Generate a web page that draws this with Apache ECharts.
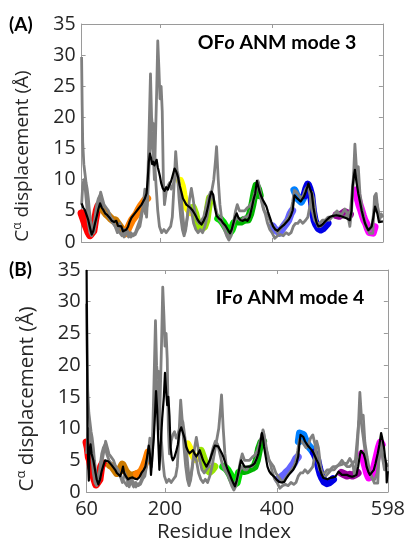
<!DOCTYPE html>
<html><head><meta charset="utf-8">
<script src="https://cdn.jsdelivr.net/npm/echarts@6/dist/echarts.min.js"></script>
<style>html,body{margin:0;padding:0;background:#fff}#c{width:408px;height:541px}</style>
</head><body><div id="c"></div>
<script>
const residueTicks = [60, 200, 400, 598];
const innerXTicks = [200, 400];
const yTicks = [0, 5, 10, 15, 20, 25, 30, 35];

// gray curves (shared by both panels)
const grayS1 = [[60,29.7],[61,22],[62,16],[64,12.5],[66,11],[68,9.5],[70,8.5],[72,7],[74,5],[76,3.5],[79,2],[82,1.5],[85,3],[88,5],[91,6.5],[94,8],[97,7],[100,6],[104,5.5],[108,5],[112,4],[116,3.5],[120,2.5],[124,1.5],[128,3],[132,2],[136,0.8],[140,2],[144,1.5],[148,0.8],[152,1.2],[156,1.5],[160,2.5],[164,3.5],[168,5],[171,5.5],[174,4.5],[177,6],[180,16],[183,27],[185,20],[187,18],[189,19],[191,12],[193,9],[196,5],[199,2.5],[203,1.5],[207,2],[211,1.5],[215,2],[219,2.5],[222,4],[225,9],[228,14.5],[231,11],[234,7],[237,4],[240,2],[243,1],[246,2],[249,4],[252,6],[256,5],[260,3],[264,2],[268,1.5],[272,2],[276,1.5],[280,2.5],[284,4],[288,6],[292,8],[296,10],[299,13],[301,15.3],[304,10],[307,6],[311,3],[315,2],[319,1],[323,0.3],[327,1],[331,3],[335,5],[338,6],[342,5],[346,5],[351,5],[356,5.5],[360,5.8],[365,6.5],[369,7.8],[373,9],[376,9.5],[380,7],[384,5.5],[388,4.5],[392,3],[396,2],[400,1.5],[405,0.6],[410,1],[415,1.2],[420,1],[425,1.5],[430,1.2],[434,1.5],[438,2.5],[442,3],[446,3],[450,3.5],[455,3],[460,3.5],[464,4],[468,6],[471,8],[474,7],[478,4],[482,2.5],[487,2.5],[492,3],[497,3.5],[502,3.5],[507,4],[512,4.5],[516,5],[520,4.5],[525,4.5],[530,5.3],[535,4.5],[539,2.5],[542,5],[545,9.4],[548,15.7],[551,11.6],[554,12.1],[557,7.8],[561,5.5],[565,3.5],[569,2.5],[574,1.4],[580,1.4],[583,7.3],[586,7.8],[589,5.1],[592,3.5],[595,4.5],[598,4]];
const grayS2 = [[60,6],[62,9],[64,10],[66,9],[68,7],[70,5],[72,3],[75,1.5],[78,1],[81,2],[84,4],[87,6],[90,7],[93,7.5],[96,6],[100,5],[104,4.5],[108,4],[112,3.5],[116,3],[120,2.5],[124,2],[128,1.5],[132,1],[136,2],[140,1.5],[144,0.8],[148,1.5],[152,1],[156,1.2],[160,2],[164,2.5],[167,4],[170,6],[173,8.5],[176,4],[179,9],[182,15],[184,19],[186,16],[188,14],[190,10],[192,17],[194,24],[196,32.3],[198,28],[200,23],[202,25],[204,21],[206,10],[208,6],[211,8],[214,9],[217,9.5],[220,8.5],[223,9],[226,10],[229,11.5],[232,11],[235,9],[238,7],[241,4],[244,1.5],[247,3],[250,5],[253,7],[256,8.6],[259,7],[262,5],[266,3.5],[270,3],[274,3.5],[278,4],[282,5.5],[286,7],[290,8],[294,7.5],[298,6],[302,4.5],[306,3.5],[310,3],[314,2.5],[318,1.5],[322,1],[326,1.5],[330,2.5],[334,3.5],[338,4],[342,3.5],[346,3.5],[350,4],[355,4],[360,4.5],[364,5.5],[368,7],[372,8.5],[375,9.8],[378,8.5],[382,6.5],[386,5],[390,4.5],[394,4],[398,3],[402,2.5],[406,2],[410,1.5],[414,2],[418,2.5],[422,3],[426,3.5],[430,4],[434,5],[437,6.5],[440,8.3],[444,8],[448,7.5],[452,7],[456,7.5],[460,8.5],[464,9],[468,7.5],[472,5],[476,3.5],[480,3],[485,3],[490,3.5],[495,3.5],[500,4],[505,4],[510,4.2],[515,4.3],[520,4.5],[525,4],[530,4],[535,4.5],[540,5],[543,8],[546,11],[549,12],[552,10],[555,8],[558,6],[562,4],[566,3],[570,2],[575,2],[579,3],[582,5],[585,6.5],[588,6],[591,4.5],[594,4],[598,4.2]];

// panel A (OFo ANM mode 3)
const blackA = [[60,6.2],[63,5.5],[66,5.1],[69,4.3],[72,3.5],[75,2.3],[78,1.2],[81,1.8],[84,3],[87,4.1],[90,5.3],[93,6.2],[96,5.5],[99,5.1],[102,4.6],[106,4.3],[110,3.9],[114,3.4],[118,3.2],[122,3.4],[125,2.6],[128,2.3],[131,2.5],[134,1.7],[137,1.5],[140,2],[143,2.5],[146,3.3],[149,3.9],[152,4.2],[155,4.6],[158,4.9],[161,5.3],[164,5.6],[167,6],[170,6.5],[173,7],[176,7.8],[178,10],[180,12.9],[182,14.2],[184,13.5],[186,12.5],[188,12.9],[190,12.3],[192,12.6],[194,13.2],[196,12],[198,11.3],[200,10.5],[202,9.5],[205,8.6],[208,8.2],[211,8.8],[214,8.4],[217,9.2],[220,9.8],[223,10.8],[226,11.8],[229,11.3],[232,10.5],[235,9.1],[238,8.1],[241,7],[244,6.5],[247,6],[250,5.8],[254,5.5],[258,5.1],[262,4.5],[266,3.8],[270,3.2],[274,2.8],[278,3.4],[282,4.2],[286,5.8],[289,7.2],[292,8.1],[295,7.6],[298,5.5],[301,4.2],[305,3.8],[309,3.5],[313,3],[317,2.6],[321,2],[325,1.4],[328,2],[331,3],[334,4],[337,4.6],[340,3.9],[344,3.5],[348,3.4],[352,3.6],[356,3.4],[360,4],[364,5.5],[367,6.8],[370,7.8],[373,9.8],[375,9.5],[378,8],[381,7.3],[384,6.7],[387,6.2],[390,5.7],[393,4.8],[396,4],[399,3.2],[402,2.5],[406,2],[410,1.8],[414,2.2],[418,2.5],[422,2.8],[426,3.2],[430,3.6],[434,4.3],[437,5.1],[440,7.5],[442,7.8],[445,7],[448,7.3],[451,6.5],[454,6.8],[457,7.3],[460,8],[463,8.8],[465,9.4],[468,8.5],[471,7.8],[474,5.5],[477,4],[480,3],[483,2.5],[487,2.6],[492,3],[497,3.5],[503,4],[509,4.2],[515,4.3],[521,4.2],[527,4],[533,3.8],[539,3.5],[542,5],[544,8.9],[546,10.5],[548,11.6],[551,9.5],[554,7.8],[557,6.5],[560,5.1],[563,4],[566,3],[569,2.4],[572,1.9],[575,2],[578,2.5],[581,4],[584,5.7],[586,5.9],[588,4.6],[591,3.2],[594,3.5],[598,3.3]];
const redA = [[60,4.6],[63,3.8],[66,3],[69,2.3],[72,1.6],[75,1.1],[78,0.9],[81,1.8],[84,3.5],[87,5],[90,5.8]];
const brownA = [[96,5.5],[100,5],[104,4.5],[108,4.2],[112,3.8],[116,3.5],[120,3.5],[124,3],[128,2.5],[132,2],[135,1.6]];
const orangeA = [[138,1.4],[142,2],[146,2.8],[150,3.5],[154,4],[158,4.5],[162,5.2],[166,5.8],[170,6.3],[174,6.8],[177,7]];
const yellowA = [[236,9.8],[239,9],[242,7.5],[245,6.2],[248,5.6],[251,5.2],[254,4.8]];
const limeA = [[259,5.5],[263,4.5],[267,3],[271,2.3],[275,2.2],[279,2.5],[283,3.5],[286,5.5],[289,7]];
const greenA = [[304,3.8],[308,3.6],[312,3.2],[316,2.6],[320,2],[324,1.5],[328,2],[332,3]];
const darkGreenA = [[337,3.5],[341,3.3],[345,3.3],[349,3.5],[353,3.6],[357,3.6],[361,4.5],[365,6],[369,8],[372,9],[375,8.5],[378,7.5]];
const slateA = [[401,2.5],[405,2],[409,1.8],[413,1.5],[417,2],[421,2.5],[425,3],[429,3.5],[433,4.5],[436,5]];
const azureA = [[440,8.3],[443,8],[446,7],[449,6.8],[452,6.5],[455,6.8],[458,7.5]];
const blueA = [[458,7.5],[461,8.5],[464,9.2],[467,8.5],[470,7.5],[473,5],[476,3.5],[479,2.8],[483,2.2],[487,2],[491,2.2],[495,2.6],[499,3]];
const purpleA = [[515,4.3],[520,4.2],[525,4.5],[530,4.8],[535,4.6],[539,4.4]];
const magentaA = [[550,8.3],[553,7],[556,6],[559,5.2],[562,4.3],[565,3.5],[568,3],[571,2.2],[574,1.6],[577,1.3],[580,1.5],[583,2.4]];

// panel B (IFo ANM mode 4)
const blackB = [[60,35],[61,20],[62,8],[63,4],[64,1.8],[65,6.5],[67,7.5],[69,6],[72,5],[75,3.5],[78,2],[81,1.2],[84,2],[87,3.3],[90,4.2],[93,5],[96,5.3],[99,4.8],[102,4.5],[105,4.2],[108,4],[111,3.5],[114,3],[117,2.8],[120,2.5],[123,3.2],[125,4],[127,3],[130,2.5],[134,2],[138,2.2],[142,2.3],[146,2.1],[150,2],[154,2.3],[158,3],[162,3.5],[165,4],[168,5.5],[171,7.3],[173,6],[175,2.7],[177,5],[180,8.5],[182,12],[184,15.9],[186,13],[188,8],[190,3.5],[192,7],[195,11.6],[198,15],[200,18.8],[202,16],[204,13.7],[206,15],[208,12],[210,7],[212,5.5],[214,5],[217,5.5],[220,6.4],[223,7.5],[226,9.5],[229,10.2],[232,10.3],[235,8.5],[238,7.1],[241,6.5],[244,6.1],[247,6.3],[250,6.6],[253,6],[256,5.6],[259,6],[262,6.6],[265,5.8],[268,5],[271,4.5],[274,4],[277,4.5],[280,5],[283,5.8],[286,6.6],[289,7.3],[292,7.6],[295,7.2],[298,6.9],[301,6.2],[304,5.6],[307,4.8],[310,4],[313,3.3],[316,2.7],[319,2],[322,1.4],[325,0.9],[328,1.8],[331,3],[334,4.3],[336,5],[339,4.5],[342,4],[346,4],[351,4],[356,4.2],[360,4.5],[364,5.3],[367,6.1],[370,7.5],[373,9.3],[375,8.5],[377,7.1],[380,5.5],[383,4],[386,3.3],[389,2.9],[392,2.6],[395,2.4],[399,2],[404,1.6],[408,1.5],[413,1.6],[417,2.2],[421,2.7],[425,3.1],[429,3.5],[432,4],[435,4.6],[438,5.6],[440,7.5],[442,9],[445,9.2],[447,8.7],[450,8],[453,7.6],[456,7.2],[459,6.9],[462,6.6],[465,6.2],[468,5.6],[471,5],[474,4.5],[477,3.5],[480,2.7],[483,2.2],[486,1.9],[490,2],[495,2.2],[500,2.3],[504,2.4],[507,2.8],[510,3.2],[513,3],[516,2.7],[520,2.7],[525,2.7],[530,2.5],[534,2.4],[538,2.5],[542,2.7],[545,4],[548,5.8],[550,6.5],[553,6.6],[555,6],[558,5],[560,4],[563,3.2],[566,2.7],[569,3],[573,3.5],[576,4.5],[580,6.1],[583,7.5],[586,9.3],[588,8.5],[591,7.1],[593,5.5],[595,4.5],[596,1.5],[598,3.3]];
const redB = [[60,7.8],[62,7],[64,5.5],[66,5],[68,4],[71,3],[74,2],[77,1.2],[80,1],[83,2],[86,4],[89,4.5]];
const brownB = [[102,4.2],[106,4],[110,3.5],[114,3],[118,3.2],[121,3.8],[124,4.3],[127,4],[130,3.2],[134,2.8],[138,2.6],[142,2.6],[146,2.7],[149,2.8]];
const orangeB = [[150,2.8],[154,3],[158,3.3],[162,4],[166,5],[170,6.2]];
const yellowB = [[240,7.5],[243,7.2],[246,6.5],[249,6],[252,5.5],[255,5.2]];
const limeB = [[264,6.5],[268,5.5],[272,4.5],[276,3.5],[280,3.2],[284,3.5],[288,4]];
const greenB = [[304,4],[308,3.8],[312,3.4],[316,2.8],[320,2],[324,1.3],[328,1.5],[332,3]];
const darkGreenB = [[337,3.5],[341,3.3],[346,3.4],[351,3.6],[356,3.8],[360,4],[364,5],[368,6.8],[372,7.8],[375,8]];
const slateB = [[402,2],[406,2.2],[410,2.5],[414,2.8],[418,3.2],[422,3.5],[426,4],[430,4.5],[434,5.2],[437,5.5]];
const azureB = [[439,8],[441,9.2],[444,9.5],[447,9],[450,8.3],[453,7.8],[456,7.3],[459,7],[462,6.7],[465,6.3]];
const blueB = [[466,6.2],[469,5.6],[472,5],[475,3.8],[478,2.8],[481,2.2],[485,1.6],[489,1.4],[493,1.5],[497,1.8],[500,2]];
const purpleB = [[515,3],[520,2.8],[525,2.6],[530,2.7],[535,2.6],[540,2.8],[544,3]];
const magentaB = [[552,6],[555,5],[558,4],[561,3],[564,2.3],[567,2.2],[570,2.8],[574,4],[578,5.5],[582,7],[585,7.8],[587,7.5]];

const segmentsA = [redA, brownA, orangeA, yellowA, limeA, greenA, darkGreenA, slateA, azureA, blueA, purpleA, magentaA];
const segmentsB = [redB, brownB, orangeB, yellowB, limeB, greenB, darkGreenB, slateB, azureB, blueB, purpleB, magentaB];
const segColors = ['#FF0000','#CC7A00','#FF8000','#FFFF00','#99E600','#00E000','#00B400','#6464FF','#0080FF','#0000E6','#990099','#FF00FF'];

const chart = echarts.init(document.getElementById('c'), null, {renderer: 'canvas'});
const FRAME = '#9a9a9a';
const TXT = '#262626';
const FONT = 'Open Sans';

function xAx(grid, pos, labels, fs) {
  return {
    type: 'value', gridIndex: grid, position: pos, min: 60, max: 598,
    axisLine: {show: true, onZero: false, lineStyle: {color: FRAME, width: 1}},
    axisTick: {show: true, inside: true, length: 4, customValues: innerXTicks, lineStyle: {color: FRAME}},
    axisLabel: labels ? {show: true, customValues: residueTicks, color: TXT, fontSize: fs, fontFamily: FONT, margin: 7, showMinLabel: true, showMaxLabel: true} : {show: false},
    splitLine: {show: false}
  };
}
function yAx(grid, pos, labels, fs) {
  return {
    type: 'value', gridIndex: grid, position: pos, min: 0, max: 35, interval: 5,
    axisLine: {show: true, onZero: false, lineStyle: {color: FRAME, width: 1}},
    axisTick: {show: true, inside: true, length: 4, lineStyle: {color: FRAME}},
    axisLabel: labels ? {show: true, color: TXT, fontSize: fs, fontFamily: FONT, margin: 6} : {show: false},
    splitLine: {show: false}
  };
}

function panelSeries(xi, yi, segs, black) {
  const s = [];
  segs.forEach((d, k) => s.push({
    type: 'line', xAxisIndex: xi, yAxisIndex: yi, data: d, symbol: 'none', silent: true,
    lineStyle: {color: segColors[k], width: 8, cap: 'round', join: 'round'}, z: 1
  }));
  [grayS1, grayS2].forEach(d => s.push({
    type: 'line', xAxisIndex: xi, yAxisIndex: yi, data: d, symbol: 'none', silent: true,
    lineStyle: {color: '#808080', width: 2.8, join: 'round'}, z: 2
  }));
  s.push({
    type: 'line', xAxisIndex: xi, yAxisIndex: yi, data: black, symbol: 'none', silent: true,
    lineStyle: {color: '#000000', width: 2.2, join: 'round'}, z: 3
  });
  return s;
}

function yTitle(x, y, fs) {
  return {
    type: 'text', x: x, y: y, rotation: Math.PI / 2, silent: true,
    style: {
      text: '{a|C}{s|α}{a| displacement (Å)}', align: 'center', verticalAlign: 'middle',
      rich: {
        a: {fontSize: fs, fontFamily: FONT, fill: TXT, lineHeight: fs + 4},
        s: {fontSize: Math.round(fs * 0.62), fontFamily: FONT, fill: TXT, verticalAlign: 'top', lineHeight: fs + 4, padding: [0, 0, 8, 0]}
      }
    }
  };
}
function pTitle(x, y, a, b) {
  return {
    type: 'text', x: x, y: y, silent: true,
    style: {
      text: '{b|' + a + '}{i|o}{b|' + b + '}', align: 'center', verticalAlign: 'middle',
      rich: {
        b: {fontSize: 19.5, fontFamily: 'Lato', fontWeight: 'bold', fill: '#000'},
        i: {fontSize: 19.5, fontFamily: 'Lato', fontWeight: 'bold', fontStyle: 'italic', fill: '#000'}
      }
    }
  };
}
function tag(x, y, t) {
  return {type: 'text', x: x, y: y, silent: true,
    style: {text: t, fontSize: 19, fontFamily: 'Lato', fontWeight: 'bold', fill: '#000', align: 'left', verticalAlign: 'middle'}};
}

chart.setOption({
  animation: false,
  backgroundColor: '#fff',
  grid: [
    {left: 81.6, top: 24, width: 301.3, height: 218},
    {left: 86.6, top: 270, width: 301.4, height: 222}
  ],
  xAxis: [xAx(0, 'bottom', false, 19), xAx(0, 'top', false, 19), xAx(1, 'bottom', true, 20), xAx(1, 'top', false, 20)],
  yAxis: [yAx(0, 'left', true, 19.5), yAx(0, 'right', false, 19.5), yAx(1, 'left', true, 20), yAx(1, 'right', false, 20)],
  series: [].concat(panelSeries(0, 0, segmentsA, blackA), panelSeries(2, 2, segmentsB, blackB)),
  graphic: [
    yTitle(23, 156, 19), yTitle(27, 399, 20.5),
    pTitle(277, 43, 'OF', ' ANM mode 3'), pTitle(290, 298, 'IF', ' ANM mode 4'),
    tag(9, 25, '(A)'), tag(9, 270, '(B)'),
    {type: 'text', x: 224, y: 532, silent: true,
     style: {text: 'Residue Index', fontSize: 20.5, fontFamily: FONT, fill: TXT, align: 'center', verticalAlign: 'middle'}}
  ]
});
</script></body></html>
